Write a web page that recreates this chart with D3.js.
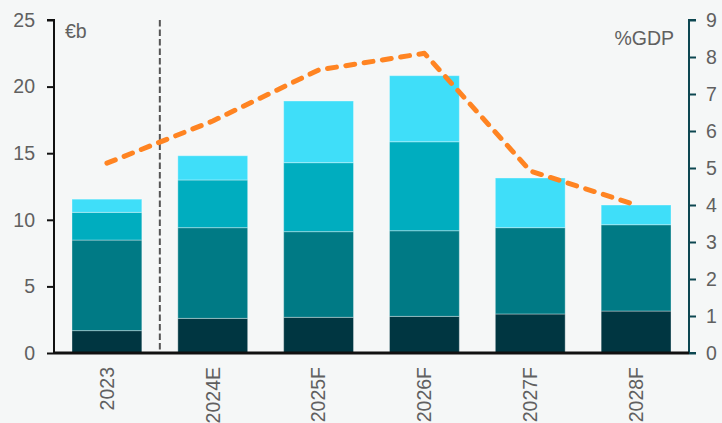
<!DOCTYPE html>
<html><head><meta charset="utf-8">
<script src="https://cdn.jsdelivr.net/npm/d3@7"></script>
<style>
html,body{margin:0;padding:0;background:#f5f7f7;}
svg{display:block;font-family:"Liberation Sans",Arial,sans-serif;}
</style></head><body>
<svg id="c" width="722" height="423"></svg>
<script>
const categories = ["2023","2024E","2025F","2026F","2027F","2028F"];
const seriesNames = ["s1","s2","s3","s4"];
const s1 = [1.68, 2.60, 2.68, 2.75, 2.93, 3.15];
const s2 = [6.80, 6.81, 6.43, 6.43, 6.48, 6.48];
const s3 = [2.08, 3.58, 5.18, 6.68, 0.00, 0.00];
const s4 = [0.99, 1.82, 4.63, 4.96, 3.73, 1.48];
const gdp = [5.13, 6.27, 7.65, 8.10, 4.92, 4.00];
const leftTicks = [0,5,10,15,20,25];
const rightTicks = [0,1,2,3,4,5,6,7,8,9];
const colors = ["#003641","#007a85","#00adbf","#3fdef9"];

const svg = d3.select("#c");
svg.append("rect").attr("width",722).attr("height",423).attr("fill","#f5f7f7");
const m = {l:54, r:689, t:20, b:353};
const x = d3.scaleBand().domain(categories).range([m.l,m.r]).paddingInner(0.34).paddingOuter(0.17);
const y = d3.scaleLinear().domain([0,25]).range([m.b,m.t]);
const y2 = d3.scaleLinear().domain([0,9]).range([m.b,m.t]);

const table = categories.map((c,i)=>({cat:c,s1:s1[i],s2:s2[i],s3:s3[i],s4:s4[i]}));
const stacked = d3.stack().keys(seriesNames)(table);
stacked.forEach((layer,k)=>{
  svg.append("g").selectAll("rect").data(layer.filter(d=>d[1]-d[0]>0)).join("rect")
    .attr("x",d=>x(d.data.cat)).attr("width",x.bandwidth())
    .attr("y",d=>y(d[1])).attr("height",d=>y(d[0])-y(d[1]))
    .attr("fill",colors[k]).attr("stroke","rgba(255,255,255,0.35)").attr("stroke-width",1);
});

// vertical dashed divider
const xd = (x("2023")+x.bandwidth()+x("2024E"))/2;
svg.append("line").attr("x1",xd).attr("x2",xd).attr("y1",y(25)).attr("y2",y(0))
  .attr("stroke","#555").attr("stroke-width",2).attr("stroke-dasharray","6.5 3");

// line
const line = d3.line().x((d,i)=>x(categories[i])+x.bandwidth()/2).y(d=>y2(d));
svg.append("path").datum(gdp).attr("d",line).attr("fill","none")
  .attr("stroke","#ff8422").attr("stroke-width",5).attr("stroke-linecap","round")
  .attr("stroke-linejoin","round").attr("stroke-dasharray","9 9.5");

// axes
const fs = "19.5px";
const tc = "#606060";
const gl = svg.append("g").attr("transform",`translate(${m.l},0)`)
  .call(d3.axisLeft(y).tickValues(leftTicks).tickSize(7).tickPadding(12));
gl.select(".domain").attr("stroke","#111").attr("stroke-width",2).attr("d",`M-7,${y(25)}H0V${y(0)}`);
gl.selectAll(".tick line").attr("stroke","#111").attr("stroke-width",2);
gl.selectAll("text").attr("fill",tc).style("font-size",fs).style("font-family","Liberation Sans, Arial, sans-serif");

const gr = svg.append("g").attr("transform",`translate(${m.r},0)`)
  .call(d3.axisRight(y2).tickValues(rightTicks).tickSize(7).tickPadding(10));
gr.select(".domain").attr("stroke","#0c4651").attr("stroke-width",2).attr("d",`M7,${y2(9)}H0V${y2(0)}H7`);
gr.selectAll(".tick line").attr("stroke","#0c4651").attr("stroke-width",2);
gr.selectAll("text").attr("fill",tc).style("font-size",fs).style("font-family","Liberation Sans, Arial, sans-serif");

const gb = svg.append("g").attr("transform",`translate(0,${m.b})`)
  .call(d3.axisBottom(x).tickSize(0).tickPadding(0));
gb.select(".domain").attr("stroke","#111").attr("stroke-width",3).attr("d",`M${m.l},0H${m.r}`);
gb.selectAll("text").attr("fill",tc).style("font-size",fs).style("font-family","Liberation Sans, Arial, sans-serif")
  .attr("transform","rotate(-90)").attr("text-anchor","end").attr("x",-14).attr("y",0).attr("dy","0.35em");

svg.append("text").attr("x",65).attr("y",38).text("€b").attr("fill",tc).style("font-size",fs);
svg.append("text").attr("x",674).attr("y",45).attr("text-anchor","end").text("%GDP").attr("fill",tc).style("font-size",fs);
</script></body></html>
